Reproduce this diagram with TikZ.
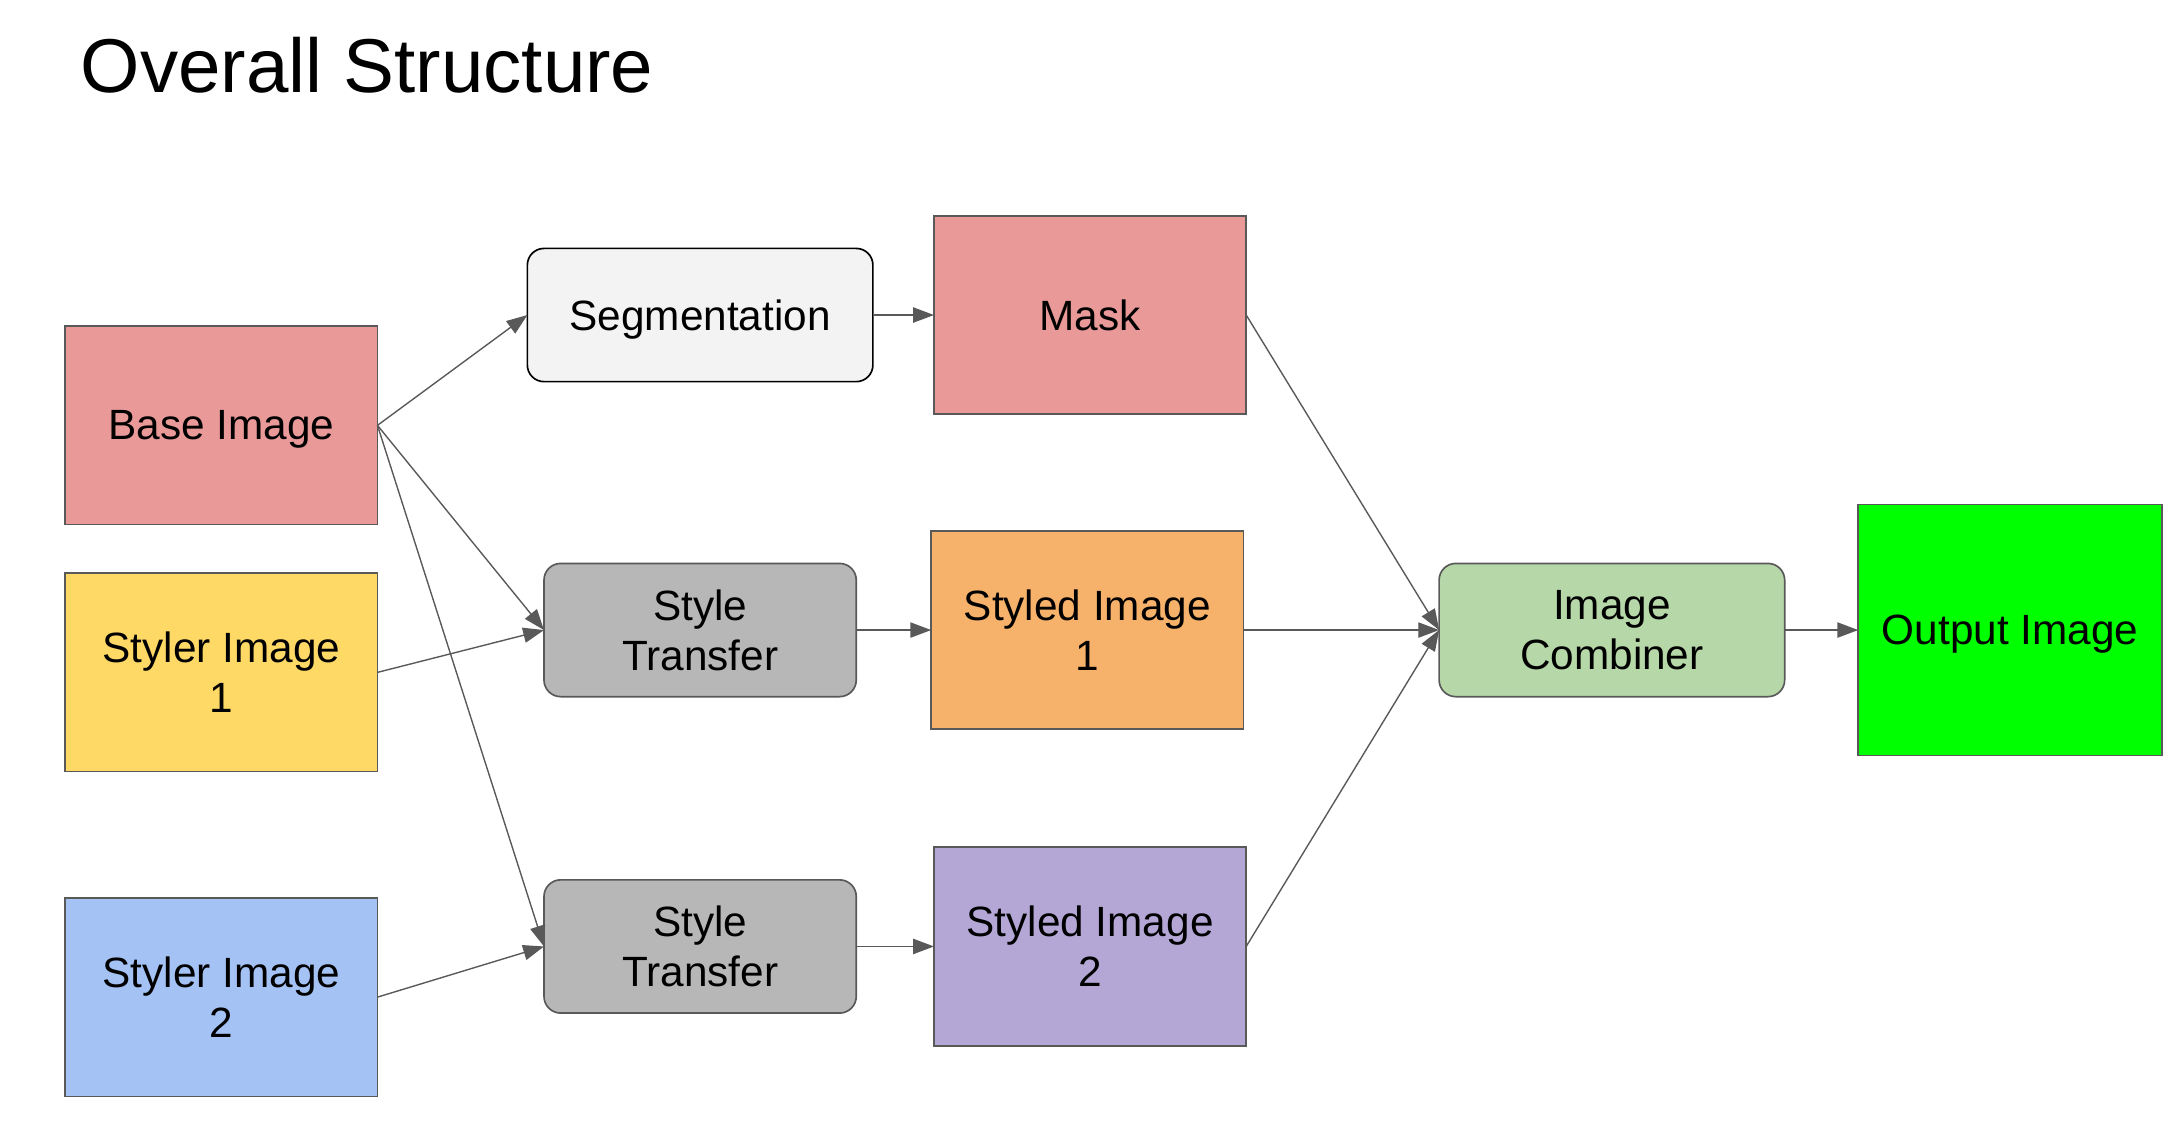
\documentclass[tikz,border=0pt]{standalone}
\usepackage{fontspec}
\setmainfont{Liberation Sans}
\usetikzlibrary{positioning,arrows.meta}
\definecolor{edgegray}{HTML}{595959}
\definecolor{basered}{HTML}{EA9999}
\definecolor{styleryellow}{HTML}{FFD966}
\definecolor{stylerblue}{HTML}{A4C2F4}
\definecolor{segwhite}{HTML}{F3F3F3}
\definecolor{transfergray}{HTML}{B7B7B7}
\definecolor{styledorange}{HTML}{F6B26B}
\definecolor{styledpurple}{HTML}{B4A7D6}
\definecolor{combinegreen}{HTML}{B6D7A8}
\definecolor{outgreen}{HTML}{00FF00}

\begin{document}
\begin{tikzpicture}[
    x=1pt, y=-1pt,
    imgbox/.style={rectangle, draw=edgegray, line width=1.2pt, minimum width=225pt, minimum height=143pt, inner sep=0pt, outer sep=0pt, text depth=0pt, align=center, font=\fontsize{30.5}{36}\selectfont},
    procbox/.style={imgbox, rounded corners=12pt, minimum height=96pt},
    arrow/.style={-{Triangle[length=15pt, width=11pt]}, draw=edgegray, line width=1pt}
]
    \useasboundingbox (0,0) rectangle (1568,820);
    \node[anchor=base west, inner sep=0pt, font=\fontsize{55}{66}\selectfont] (title) at (58,67) {Overall Structure};

    % inputs
    \node[imgbox, fill=basered] (base) at (159.5,306.5) {Base Image};
    \node[imgbox, fill=styleryellow, below=35pt of base] (styler1) {Styler Image\\1};
    \node[imgbox, fill=stylerblue, below=91pt of styler1] (styler2) {Styler Image\\2};

    % processing
    \node[procbox, fill=transfergray] (transfer1) at (504.5,454) {Style\\Transfer};
    \node[procbox, fill=transfergray, below=132pt of transfer1] (transfer2) {Style\\Transfer};
    \node[procbox, fill=segwhite, draw=black, minimum width=249pt, above=131pt of transfer1] (seg) {Segmentation};

    % intermediate images
    \node[imgbox, fill=basered, right=44pt of seg] (mask) {Mask};
    \node[imgbox, fill=styledorange, right=54pt of transfer1] (styled1) {Styled Image\\1};
    \node[imgbox, fill=styledpurple, right=56pt of transfer2] (styled2) {Styled Image\\2};

    % output
    \node[procbox, fill=combinegreen, minimum width=249pt, right=141pt of styled1] (combiner) {Image\\Combiner};
    \node[imgbox, fill=outgreen, minimum width=219pt, minimum height=181pt, right=53pt of combiner] (output) {Output Image};

    \draw[arrow] (base.east) -- (seg.west);
    \draw[arrow] (base.east) -- (transfer1.west);
    \draw[arrow] (base.east) -- (transfer2.west);
    \draw[arrow] (styler1.east) -- (transfer1.west);
    \draw[arrow] (styler2.east) -- (transfer2.west);
    \draw[arrow] (seg) -- (mask);
    \draw[arrow] (transfer1) -- (styled1);
    \draw[arrow] (transfer2) -- (styled2);
    \draw[arrow] (mask.east) -- (combiner.west);
    \draw[arrow] (styled1) -- (combiner);
    \draw[arrow] (styled2.east) -- (combiner.west);
    \draw[arrow] (combiner) -- (output);
\end{tikzpicture}
\end{document}
